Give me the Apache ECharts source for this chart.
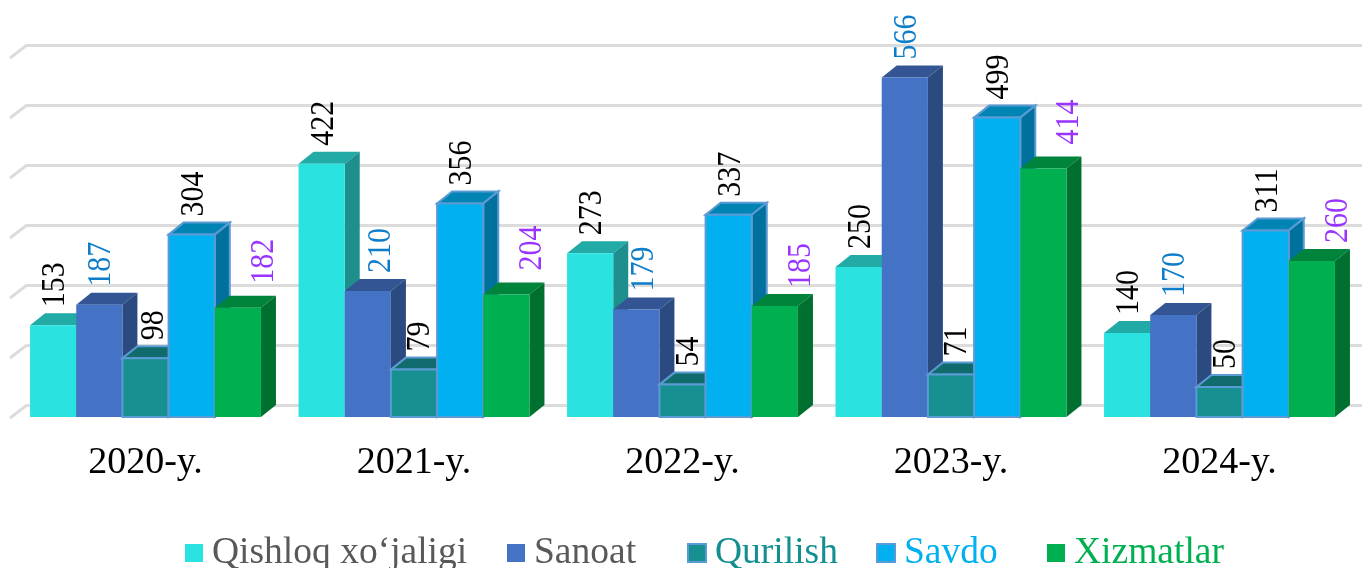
<!DOCTYPE html>
<html>
<head>
<meta charset="utf-8">
<style>html,body{margin:0;padding:0;background:#fff}#main{width:1362px;height:568px}</style>
<script src="https://cdn.jsdelivr.net/npm/echarts@6/dist/echarts.min.js"></script>
</head>
<body>
<div id="main"></div>
<script>
var categories = ['2020-y.', '2021-y.', '2022-y.', '2023-y.', '2024-y.'];
var seriesNames = ['Qishloq xo‘jaligi', 'Sanoat', 'Qurilish', 'Savdo', 'Xizmatlar'];
var qishloq = [153, 422, 273, 250, 140];
var sanoat = [187, 210, 179, 566, 170];
var qurilish = [98, 79, 54, 71, 50];
var savdo = [304, 356, 337, 499, 311];
var xizmatlar = [182, 204, 185, 414, 260];
var yTicks = [0, 100, 200, 300, 400, 500, 600];

var serif = '"Liberation Serif", serif';
var depthX = 15, depthY = 12;
var front = ['#2ae3e0', '#4472c4', '#169090', '#00b0f0', '#00b050'];
var topFace = ['#22aaa7', '#335593', '#106c6c', '#0084b4', '#00843c'];
var sideFace = ['#1f8f8d', '#2b4a80', '#0d5a5a', '#00709c', '#007030'];
var edge = [null, null, '#5b9bd5', '#5b9bd5', null];
var labelColor = ['#000', '#0d7dc9', '#000', '#000', '#9933ff'];
var legendColor = ['#595959', '#595959', '#148f8f', '#00b0f0', '#00b050'];
var labelShift = [2, 2, 6, 2, 26];
// labels the original had dragged by hand: 'series-category': [dx, dy]
var labelNudge = {
    '1-1': [11, 0], '1-2': [6, 0], '2-0': [2, 0],
    '4-0': [0, -6], '4-1': [0, -6], '4-3': [0, -6]
};
var legendLeft = [180, 502, 682, 871, 1042];

function barRender(k) {
    return function (params, api) {
        var i = api.value(0);
        var band = api.size([1, 0])[0];
        var w = band * 0.86 / 5;
        var p = api.coord([i, api.value(1)]);
        var base = api.coord([i, 0])[1];
        var x = p[0] - 2.5 * w + k * w, y = p[1];
        var line = edge[k] ? {stroke: edge[k], lineWidth: 2} : {};
        var nudge = labelNudge[k + '-' + i] || [0, 0];
        function face(points, fill) {
            return {type: 'polygon', shape: {points: points}, style: Object.assign({fill: fill}, line)};
        }
        return {
            type: 'group',
            children: [
                face([[x, y], [x + w, y], [x + w + depthX, y - depthY], [x + depthX, y - depthY]], topFace[k]),
                face([[x + w, y], [x + w + depthX, y - depthY], [x + w + depthX, base - depthY], [x + w, base]], sideFace[k]),
                face([[x, y], [x + w, y], [x + w, base], [x, base]], front[k]),
                {
                    type: 'text',
                    x: x + w / 2 + labelShift[k] + nudge[0],
                    y: y - depthY - 6 + nudge[1],
                    rotation: Math.PI / 2,
                    scaleY: 1.15,
                    z2: 100,
                    style: {
                        text: String(api.value(1)),
                        font: '30px ' + serif,
                        fill: labelColor[k],
                        align: 'left',
                        verticalAlign: 'middle'
                    }
                }
            ]
        };
    };
}

function makeBars(name, values, k) {
    return {
        name: name,
        type: 'custom',
        xAxisIndex: 0,
        yAxisIndex: 0,
        renderItem: barRender(k),
        itemStyle: {color: front[k]},
        encode: {x: 0, y: 1},
        data: values.map(function (v, i) { return [i, v]; })
    };
}

var chart = echarts.init(document.getElementById('main'));
var valuesBySeries = [qishloq, sanoat, qurilish, savdo, xizmatlar];

var option = {
    animation: false,
    backgroundColor: '#fff',
    grid: [
        {left: 11.25, right: 8.25, top: 57, bottom: 151},
        {left: 27, right: 0, top: 45, bottom: 163}
    ],
    xAxis: [
        {
            type: 'category', gridIndex: 0, data: categories,
            axisLine: {show: false}, axisTick: {show: false},
            axisLabel: {fontFamily: serif, fontSize: 38, color: '#000', margin: 27}
        },
        {type: 'category', gridIndex: 1, data: categories, show: false}
    ],
    yAxis: [
        {type: 'value', gridIndex: 0, min: 0, max: 600, interval: 100, show: false},
        {
            type: 'value', gridIndex: 1, min: 0, max: 600, interval: 100,
            axisLine: {show: false}, axisTick: {show: false}, axisLabel: {show: false},
            splitLine: {show: true, lineStyle: {color: '#dcdcdc', width: 3}}
        }
    ],
    // one legend per item, the gaps in the original are not even
    legend: seriesNames.map(function (n, k) {
        return {
            left: legendLeft[k],
            top: 529,
            icon: 'rect',
            itemWidth: 18,
            itemHeight: 18,
            data: [{
                name: n,
                itemStyle: {color: front[k], borderColor: edge[k] || front[k], borderWidth: edge[k] ? 2 : 0},
                textStyle: {color: legendColor[k], fontFamily: serif, fontSize: 37.5, padding: [0, 0, 0, 4]}
            }]
        };
    }),
    series: [{
        type: 'custom',
        silent: true,
        xAxisIndex: 1,
        yAxisIndex: 1,
        renderItem: function (params, api) {
            var y = api.coord([0, api.value(0)])[1];
            var x = params.coordSys.x;
            return {
                type: 'line',
                shape: {x1: x, y1: y, x2: x - 17, y2: y + 13},
                style: {stroke: '#dcdcdc', lineWidth: 3}
            };
        },
        encode: {y: 0},
        data: yTicks.map(function (t) { return [t]; })
    }].concat(valuesBySeries.map(function (vals, k) {
        return makeBars(seriesNames[k], vals, k);
    }))
};

chart.setOption(option);
</script>
</body>
</html>
